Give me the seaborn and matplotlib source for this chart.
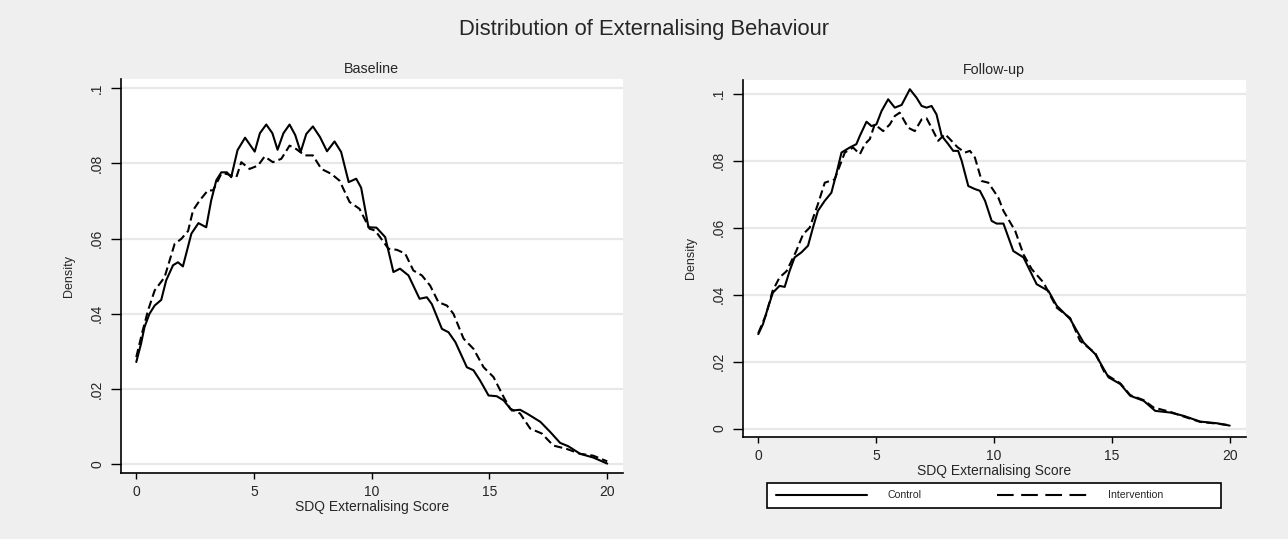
import matplotlib
matplotlib.use("Agg")
import matplotlib.pyplot as plt
import seaborn as sns
from matplotlib.lines import Line2D
from matplotlib.patches import Rectangle

# ---------------- data ----------------
base_ctrl_x = [0.0, 0.2, 0.35, 0.56, 0.78, 1.06, 1.27, 1.56, 1.77, 1.98, 2.34, 2.64, 2.97, 3.18, 3.4,
               3.61, 3.85, 4.03, 4.3, 4.62, 5.03, 5.25, 5.52, 5.78, 6.0, 6.25, 6.51, 6.75, 6.98, 7.22,
               7.5, 7.8, 8.1, 8.42, 8.7, 9.02, 9.34, 9.55, 9.86, 10.2, 10.57, 10.92, 11.2, 11.56,
               12.03, 12.34, 12.55, 12.98, 13.26, 13.55, 14.04, 14.32, 14.6, 14.96, 15.31, 15.6,
               15.95, 16.3, 16.59, 17.16, 17.58, 18.0, 18.35, 18.85, 19.41, 20.0]
base_ctrl_y = [0.0272, 0.032, 0.0365, 0.0400, 0.0422, 0.0437, 0.0489, 0.0529, 0.0537, 0.0526, 0.0613,
               0.0641, 0.0630, 0.0701, 0.0755, 0.0776, 0.0776, 0.0763, 0.0835, 0.0868, 0.0831, 0.0880,
               0.0903, 0.0880, 0.0836, 0.0880, 0.0903, 0.0875, 0.0830, 0.0878, 0.0898, 0.0870, 0.0832,
               0.0858, 0.0830, 0.0750, 0.0759, 0.0735, 0.0630, 0.0629, 0.0604, 0.0511, 0.0520, 0.0502,
               0.0440, 0.0444, 0.0426, 0.0360, 0.0351, 0.0325, 0.0258, 0.0250, 0.0223, 0.0183, 0.0181,
               0.0170, 0.0143, 0.0145, 0.0135, 0.0113, 0.0086, 0.0057, 0.0048, 0.0028, 0.0018, 0.0002]

base_int_x = [0.0, 0.25, 0.5, 0.78, 1.2, 1.63, 1.91, 2.2, 2.41, 2.69, 3.04, 3.26, 3.61, 3.82, 4.25,
              4.46, 4.81, 5.17, 5.45, 5.8, 6.16, 6.51, 6.79, 7.15, 7.5, 7.86, 8.28, 8.63, 9.06, 9.48,
              9.91, 10.15, 10.71, 11.07, 11.42, 11.77, 12.13, 12.48, 12.83, 13.19, 13.47, 13.9, 14.32,
              14.75, 15.17, 15.6, 15.88, 16.3, 16.73, 17.22, 17.71, 18.28, 18.85, 19.41, 20.0]
base_int_y = [0.0285, 0.0350, 0.0409, 0.0462, 0.0497, 0.0586, 0.0599, 0.0620, 0.0675, 0.0701, 0.0728,
              0.0728, 0.0772, 0.0772, 0.0763, 0.0803, 0.0785, 0.0794, 0.0818, 0.0803, 0.0812, 0.0847,
              0.0838, 0.0821, 0.0821, 0.0785, 0.0772, 0.0754, 0.0697, 0.0679, 0.0626, 0.0621, 0.0573,
              0.0570, 0.0560, 0.0515, 0.0502, 0.0475, 0.0431, 0.0422, 0.0400, 0.0334, 0.0307, 0.0258,
              0.0232, 0.0179, 0.0148, 0.0135, 0.0095, 0.0082, 0.0050, 0.0041, 0.0028, 0.0023, 0.0008]

fu_ctrl_x = [0.0, 0.2, 0.41, 0.62, 0.9, 1.12, 1.33, 1.54, 1.83, 2.11, 2.32, 2.53, 2.82, 3.1, 3.31,
             3.53, 3.88, 4.16, 4.31, 4.59, 4.8, 5.01, 5.23, 5.51, 5.79, 6.08, 6.43, 6.71, 6.93, 7.14,
             7.35, 7.56, 7.78, 8.06, 8.27, 8.48, 8.63, 8.91, 9.19, 9.4, 9.62, 9.9, 10.11, 10.4, 10.82,
             11.25, 11.81, 12.31, 12.66, 13.23, 13.8, 14.3, 14.86, 15.36, 15.78, 16.35, 16.84, 17.48,
             18.05, 18.75, 19.46, 20.0]
fu_ctrl_y = [0.0282, 0.0312, 0.0361, 0.0406, 0.0426, 0.0423, 0.0471, 0.0511, 0.0526, 0.0546, 0.0600,
             0.0650, 0.0680, 0.0704, 0.0760, 0.0824, 0.0839, 0.0849, 0.0874, 0.0916, 0.0903, 0.0908,
             0.0948, 0.0983, 0.0958, 0.0966, 0.1013, 0.0988, 0.0963, 0.0958, 0.0963, 0.0938, 0.0874,
             0.0849, 0.0829, 0.0829, 0.0799, 0.0724, 0.0715, 0.0710, 0.0680, 0.0620, 0.0612, 0.0612,
             0.0530, 0.0511, 0.0431, 0.0411, 0.0367, 0.0327, 0.0257, 0.0222, 0.0153, 0.0133, 0.0098,
             0.0083, 0.0053, 0.0048, 0.0038, 0.0021, 0.0016, 0.0009]

fu_int_x = [0.0, 0.34, 0.6, 0.9, 1.2, 1.61, 1.9, 2.18, 2.53, 2.82, 3.24, 3.67, 4.02, 4.31, 4.52, 4.73,
            4.94, 5.3, 5.58, 5.79, 6.0, 6.36, 6.64, 6.93, 7.14, 7.35, 7.63, 7.92, 8.13, 8.45, 8.77,
            8.98, 9.19, 9.48, 9.76, 10.18, 10.4, 10.9, 11.25, 11.6, 12.1, 12.66, 13.23, 13.65, 14.3,
            14.72, 15.36, 15.78, 16.35, 16.77, 17.48, 18.05, 18.75, 19.46, 20.0]
fu_int_y = [0.0285, 0.0342, 0.0410, 0.0451, 0.0470, 0.0530, 0.0580, 0.0600, 0.0670, 0.0734, 0.0744,
            0.0824, 0.0839, 0.0819, 0.0849, 0.0864, 0.0908, 0.0888, 0.0908, 0.0933, 0.0943, 0.0898,
            0.0888, 0.0923, 0.0926, 0.0898, 0.0859, 0.0879, 0.0864, 0.0840, 0.0824, 0.0829, 0.0809,
            0.0739, 0.0734, 0.0690, 0.0650, 0.0590, 0.0520, 0.0476, 0.0436, 0.0361, 0.0330, 0.0262,
            0.0225, 0.0163, 0.0135, 0.0100, 0.0085, 0.0063, 0.0050, 0.0036, 0.0020, 0.0015, 0.0010]

panel_titles = ["Baseline", "Follow-up"]
series_names = ["Control", "Intervention"]
x_ticks = [0, 5, 10, 15, 20]
y_ticks = [0, 0.02, 0.04, 0.06, 0.08, 0.1]
y_ticklabels = ["0", ".02", ".04", ".06", ".08", ".1"]
main_title = "Distribution of Externalising Behaviour"
x_label = "SDQ Externalising Score"
y_label = "Density"

# ---------------- styling ----------------
sns.set_theme(style="white")
plt.rcParams["font.family"] = ["Liberation Sans", "DejaVu Sans"]

BG = "#efefef"
W, H = 1288, 539
fig = plt.figure(figsize=(W / 100, H / 100), dpi=100, facecolor=BG)

def frac(l, t, r, b):
    return [l / W, 1 - b / H, (r - l) / W, (b - t) / H]

ax1 = fig.add_axes(frac(120.5, 79, 623, 473))
ax2 = fig.add_axes(frac(742.5, 79.5, 1245.5, 437))

LW = 1.5
dash = (0, (4.0, 2.0))
panels = [
    (ax1, base_ctrl_x, base_ctrl_y, base_int_x, base_int_y, (-0.0023, 0.1024)),
    (ax2, fu_ctrl_x, fu_ctrl_y, fu_int_x, fu_int_y, (-0.0025, 0.1042)),
]

for i, (ax, cx, cy, ix, iy, ylim) in enumerate(panels):
    ax.set_facecolor("white")
    for yt in y_ticks:
        ax.axhline(yt, color="#e8e8e8", lw=1.6, zorder=0)
    sns.lineplot(x=cx, y=cy, ax=ax, color="black", linewidth=LW,
                 estimator=None, sort=False, zorder=3,
                 solid_joinstyle="round", solid_capstyle="round")
    sns.lineplot(x=ix, y=iy, ax=ax, color="black", linewidth=LW,
                 linestyle=dash, estimator=None, sort=False, zorder=3,
                 dash_joinstyle="round")
    ax.set_xlim(-0.67, 20.67)
    ax.set_ylim(*ylim)
    ax.set_xticks(x_ticks)
    ax.set_xticklabels([str(t) for t in x_ticks], fontsize=10)
    ax.set_yticks(y_ticks)
    ax.set_yticklabels(y_ticklabels, fontsize=10, rotation=90, va="center")
    ax.tick_params(axis="y", direction="out", length=7.2, width=1,
                   color="black", pad=4.5, left=True)
    ax.tick_params(axis="x", direction="out", length=4.5, width=1,
                   color="black", pad=4.5, bottom=True)
    for s in ["top", "right"]:
        ax.spines[s].set_visible(False)
    for s in ["left", "bottom"]:
        ax.spines[s].set_color("black")
        ax.spines[s].set_linewidth(1.2)
    ax.set_xlabel(x_label, fontsize=10, labelpad=0)
    ax.set_ylabel(y_label, fontsize=9, labelpad=11)
    ax.set_title(panel_titles[i], fontsize=10.3, pad=4)

fig.text(0.5, 1 - 30 / H, main_title, ha="center", va="center", fontsize=15.8)

# legend box
fig.patches.append(Rectangle((767 / W, 1 - 508 / H), (1221 - 767) / W, 25 / H,
                             transform=fig.transFigure, facecolor="white",
                             edgecolor="black", linewidth=1.2, zorder=1))
FS = 7.6
fs_px = FS * 100 / 72
handles = [Line2D([], [], color="black", lw=LW),
           Line2D([], [], color="black", lw=LW, linestyle=(0, (8, 3.6)))]
leg = fig.legend(handles, series_names, loc="center left", ncol=2,
                 bbox_to_anchor=(776 / W, 1 - 495.5 / H),
                 fontsize=FS, handlelength=91 / fs_px, handletextpad=20 / fs_px,
                 columnspacing=76 / fs_px, borderpad=0, borderaxespad=0,
                 frameon=False)
leg.set_zorder(2)

fig.savefig("out.png", dpi=100, facecolor=BG)
